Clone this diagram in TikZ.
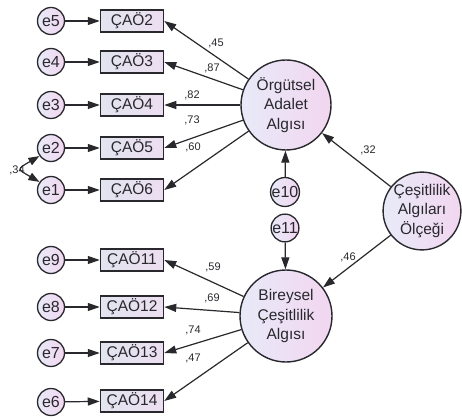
\documentclass[tikz,border=0pt]{standalone}
\usepackage{fontspec}
\setmainfont{Liberation Sans}
\usetikzlibrary{arrows.meta}
\definecolor{lineC}{RGB}{40,40,45}
\definecolor{circL}{RGB}{232,234,248}
\definecolor{circR}{RGB}{242,214,240}
\definecolor{boxL}{RGB}{226,228,240}
\definecolor{boxR}{RGB}{236,222,240}
\tikzset{
  errc/.style={circle,draw=lineC,line width=1.3pt,minimum size=27pt,inner sep=0pt,
    left color=circL,right color=circR,font=\fontsize{16}{16}\selectfont,text=lineC},
  latc/.style={circle,draw=lineC,line width=1.4pt,inner sep=0pt,
    left color=circL,right color=circR,font=\fontsize{15.5}{19.5}\selectfont,text=lineC,align=center},
  obsbox/.style={rectangle,draw=lineC,line width=1.5pt,minimum width=63pt,minimum height=22pt,inner sep=0pt,
    left color=boxL,right color=boxR,font=\fontsize{15.5}{15.5}\selectfont,text=lineC},
  arr/.style={draw=lineC,line width=1.2pt,-{Triangle[length=12pt,width=8pt]}},
  arrb/.style={draw=lineC,line width=1.2pt,{Triangle[length=11pt,width=8pt]}-{Triangle[length=11pt,width=8pt]}},
  coef/.style={font=\fontsize{11}{11}\selectfont,text=lineC,inner sep=0pt}
}
\begin{document}
\begin{tikzpicture}[x=1pt,y=-1pt]
\useasboundingbox (0,0) rectangle (462,419);
% latent variables
\node[latc,minimum size=90pt] (org) at (286,105) {Örgütsel\\Adalet\\Algısı};
\node[latc,minimum size=92pt] (bir) at (286,316) {Bireysel\\Çeşitlilik\\Algısı};
\node[latc,minimum size=76pt] (ces) at (422,211) {Çeşitlilik\\Algıları\\Ölçeği};
\node[errc] (e10) at (285,192) {e10};
\node[errc] (e11) at (285,228) {e11};
% upper indicators
\node[obsbox] (b2) at (132,21) {ÇAÖ2};
\node[obsbox] (b3) at (132,62) {ÇAÖ3};
\node[obsbox] (b4) at (132,105) {ÇAÖ4};
\node[obsbox] (b5) at (132,148) {ÇAÖ5};
\node[obsbox] (b6) at (132,190) {ÇAÖ6};
\node[errc] (e5) at (51,21) {e5};
\node[errc] (e4) at (51,62) {e4};
\node[errc] (e3) at (51,105) {e3};
\node[errc] (e2) at (51,148) {e2};
\node[errc] (e1) at (51,190) {e1};
% lower indicators
\node[obsbox] (b11) at (132,260) {ÇAÖ11};
\node[obsbox] (b12) at (132,307) {ÇAÖ12};
\node[obsbox] (b13) at (132,353) {ÇAÖ13};
\node[obsbox] (b14) at (132,401) {ÇAÖ14};
\node[errc] (e9) at (51,260) {e9};
\node[errc] (e8) at (51,307) {e8};
\node[errc] (e7) at (51,353) {e7};
\node[errc] (e6) at (51,402) {e6};
% error arrows
\foreach \e/\b in {e5/b2,e4/b3,e3/b4,e2/b5,e1/b6,e9/b11,e8/b12,e7/b13,e6/b14}
  \draw[arr] (\e) -- (\b);
% loadings
\foreach \b in {b2,b3,b4,b5,b6} \draw[arr] (org) -- (\b.east);
\foreach \b in {b11,b12,b13,b14} \draw[arr] (bir) -- (\b.east);
\draw[arr] (e10) -- (org);
\draw[arr] (e11) -- (bir);
\draw[arr] (ces) -- (org);
\draw[arr] (ces) -- (bir);
% coefficient labels
\node[coef] (l45) at (216,43) {,45};
\node[coef] (l87) at (212,68) {,87};
\node[coef] (l82) at (192,95) {,82};
\node[coef] (l73) at (192,120) {,73};
\node[coef] (l60) at (193,147) {,60};
\node[coef] (l34) at (17,170) {,34};
\node[coef] (l32) at (368,150) {,32};
\node[coef] (l46) at (348,257) {,46};
\node[coef] (l59) at (213,267) {,59};
\node[coef] (l69) at (212,298) {,69};
\node[coef] (l74) at (193,330) {,74};
\node[coef] (l47) at (193,358) {,47};
% covariance
\draw[arrb] (e2.215) to[out=210,in=150,looseness=2.6] (e1.145);
\end{tikzpicture}
\end{document}
